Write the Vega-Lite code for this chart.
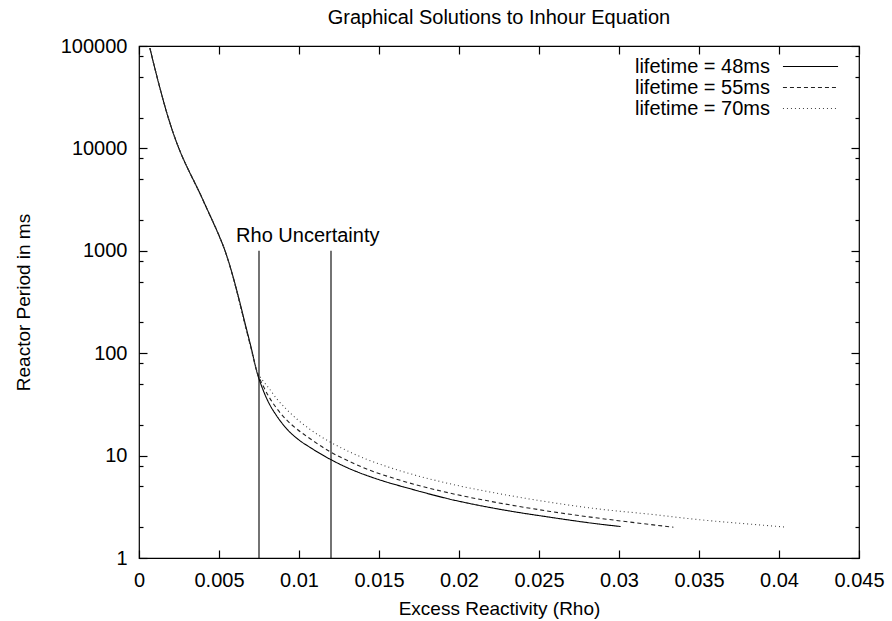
{
  "$schema": "https://vega.github.io/schema/vega-lite/v6.json",
  "autosize": {"type": "none"},
  "width": 720,
  "height": 512,
  "padding": {"left": 139, "top": 46, "right": 33, "bottom": 63},
  "background": "white",
  "title": {"text": "Graphical Solutions to Inhour Equation", "anchor": "middle", "offset": 8, "fontSize": 20, "font": "Liberation Sans", "fontWeight": "normal", "color": "black"},
  "config": {
    "view": {"stroke": "black", "strokeWidth": 1.2},
    "axis": {"domain": false, "grid": false, "labelFont": "Liberation Sans", "labelFontSize": 20, "labelColor": "black", "titleFont": "Liberation Sans", "titleFontSize": 19, "titleFontWeight": "normal", "titleColor": "black", "tickColor": "black", "tickWidth": 1.2, "labelOverlap": false, "labelFlush": false},
    "legend": {"labelFont": "Liberation Sans", "labelFontSize": 20, "labelColor": "black"}
  },
  "datasets": {
    "curves": [
      {"rho": 0.00068, "period": 95500, "lifetime": "lifetime = 48ms"},
      {"rho": 0.001, "period": 59600, "lifetime": "lifetime = 48ms"},
      {"rho": 0.0014, "period": 34300, "lifetime": "lifetime = 48ms"},
      {"rho": 0.0018, "period": 20650, "lifetime": "lifetime = 48ms"},
      {"rho": 0.0022, "period": 13270, "lifetime": "lifetime = 48ms"},
      {"rho": 0.0026, "period": 9100, "lifetime": "lifetime = 48ms"},
      {"rho": 0.003, "period": 6590, "lifetime": "lifetime = 48ms"},
      {"rho": 0.0034, "period": 4910, "lifetime": "lifetime = 48ms"},
      {"rho": 0.0038, "period": 3660, "lifetime": "lifetime = 48ms"},
      {"rho": 0.0042, "period": 2670, "lifetime": "lifetime = 48ms"},
      {"rho": 0.0046, "period": 1950, "lifetime": "lifetime = 48ms"},
      {"rho": 0.005, "period": 1410, "lifetime": "lifetime = 48ms"},
      {"rho": 0.0054, "period": 977, "lifetime": "lifetime = 48ms"},
      {"rho": 0.0058, "period": 617, "lifetime": "lifetime = 48ms"},
      {"rho": 0.0062, "period": 363, "lifetime": "lifetime = 48ms"},
      {"rho": 0.0066, "period": 204, "lifetime": "lifetime = 48ms"},
      {"rho": 0.007, "period": 115, "lifetime": "lifetime = 48ms"},
      {"rho": 0.0074, "period": 63, "lifetime": "lifetime = 48ms"},
      {"rho": 0.0077, "period": 46, "lifetime": "lifetime = 48ms"},
      {"rho": 0.0081, "period": 33, "lifetime": "lifetime = 48ms"},
      {"rho": 0.0086, "period": 24.5, "lifetime": "lifetime = 48ms"},
      {"rho": 0.0092, "period": 18.5, "lifetime": "lifetime = 48ms"},
      {"rho": 0.0099, "period": 14.6, "lifetime": "lifetime = 48ms"},
      {"rho": 0.0107, "period": 12, "lifetime": "lifetime = 48ms"},
      {"rho": 0.0119, "period": 9.3, "lifetime": "lifetime = 48ms"},
      {"rho": 0.0132, "period": 7.4, "lifetime": "lifetime = 48ms"},
      {"rho": 0.01423, "period": 6.4, "lifetime": "lifetime = 48ms"},
      {"rho": 0.0155, "period": 5.5, "lifetime": "lifetime = 48ms"},
      {"rho": 0.01673, "period": 4.85, "lifetime": "lifetime = 48ms"},
      {"rho": 0.01944, "period": 3.75, "lifetime": "lifetime = 48ms"},
      {"rho": 0.0225, "period": 3.0, "lifetime": "lifetime = 48ms"},
      {"rho": 0.0257, "period": 2.5, "lifetime": "lifetime = 48ms"},
      {"rho": 0.0288, "period": 2.14, "lifetime": "lifetime = 48ms"},
      {"rho": 0.0301, "period": 2.03, "lifetime": "lifetime = 48ms"},

      {"rho": 0.00068, "period": 95500, "lifetime": "lifetime = 55ms"},
      {"rho": 0.001, "period": 59600, "lifetime": "lifetime = 55ms"},
      {"rho": 0.0014, "period": 34300, "lifetime": "lifetime = 55ms"},
      {"rho": 0.0018, "period": 20650, "lifetime": "lifetime = 55ms"},
      {"rho": 0.0022, "period": 13270, "lifetime": "lifetime = 55ms"},
      {"rho": 0.0026, "period": 9100, "lifetime": "lifetime = 55ms"},
      {"rho": 0.003, "period": 6590, "lifetime": "lifetime = 55ms"},
      {"rho": 0.0034, "period": 4910, "lifetime": "lifetime = 55ms"},
      {"rho": 0.0038, "period": 3660, "lifetime": "lifetime = 55ms"},
      {"rho": 0.0042, "period": 2670, "lifetime": "lifetime = 55ms"},
      {"rho": 0.0046, "period": 1950, "lifetime": "lifetime = 55ms"},
      {"rho": 0.005, "period": 1410, "lifetime": "lifetime = 55ms"},
      {"rho": 0.0054, "period": 977, "lifetime": "lifetime = 55ms"},
      {"rho": 0.0058, "period": 612, "lifetime": "lifetime = 55ms"},
      {"rho": 0.0062, "period": 357, "lifetime": "lifetime = 55ms"},
      {"rho": 0.0066, "period": 198, "lifetime": "lifetime = 55ms"},
      {"rho": 0.007, "period": 112, "lifetime": "lifetime = 55ms"},
      {"rho": 0.0074, "period": 64, "lifetime": "lifetime = 55ms"},
      {"rho": 0.0077, "period": 50, "lifetime": "lifetime = 55ms"},
      {"rho": 0.0081, "period": 38, "lifetime": "lifetime = 55ms"},
      {"rho": 0.0086, "period": 29, "lifetime": "lifetime = 55ms"},
      {"rho": 0.0092, "period": 22.5, "lifetime": "lifetime = 55ms"},
      {"rho": 0.0099, "period": 18, "lifetime": "lifetime = 55ms"},
      {"rho": 0.0107, "period": 14.6, "lifetime": "lifetime = 55ms"},
      {"rho": 0.0119, "period": 11, "lifetime": "lifetime = 55ms"},
      {"rho": 0.0132, "period": 8.7, "lifetime": "lifetime = 55ms"},
      {"rho": 0.01423, "period": 7.4, "lifetime": "lifetime = 55ms"},
      {"rho": 0.0155, "period": 6.3, "lifetime": "lifetime = 55ms"},
      {"rho": 0.01673, "period": 5.5, "lifetime": "lifetime = 55ms"},
      {"rho": 0.01944, "period": 4.3, "lifetime": "lifetime = 55ms"},
      {"rho": 0.0225, "period": 3.45, "lifetime": "lifetime = 55ms"},
      {"rho": 0.0257, "period": 2.85, "lifetime": "lifetime = 55ms"},
      {"rho": 0.0288, "period": 2.44, "lifetime": "lifetime = 55ms"},
      {"rho": 0.0306, "period": 2.25, "lifetime": "lifetime = 55ms"},
      {"rho": 0.0334, "period": 2.0, "lifetime": "lifetime = 55ms"},

      {"rho": 0.00068, "period": 95500, "lifetime": "lifetime = 70ms"},
      {"rho": 0.001, "period": 59600, "lifetime": "lifetime = 70ms"},
      {"rho": 0.0014, "period": 34300, "lifetime": "lifetime = 70ms"},
      {"rho": 0.0018, "period": 20650, "lifetime": "lifetime = 70ms"},
      {"rho": 0.0022, "period": 13270, "lifetime": "lifetime = 70ms"},
      {"rho": 0.0026, "period": 9100, "lifetime": "lifetime = 70ms"},
      {"rho": 0.003, "period": 6590, "lifetime": "lifetime = 70ms"},
      {"rho": 0.0034, "period": 4910, "lifetime": "lifetime = 70ms"},
      {"rho": 0.0038, "period": 3660, "lifetime": "lifetime = 70ms"},
      {"rho": 0.0042, "period": 2670, "lifetime": "lifetime = 70ms"},
      {"rho": 0.0046, "period": 1950, "lifetime": "lifetime = 70ms"},
      {"rho": 0.005, "period": 1410, "lifetime": "lifetime = 70ms"},
      {"rho": 0.0054, "period": 975, "lifetime": "lifetime = 70ms"},
      {"rho": 0.0058, "period": 605, "lifetime": "lifetime = 70ms"},
      {"rho": 0.0062, "period": 350, "lifetime": "lifetime = 70ms"},
      {"rho": 0.0066, "period": 192, "lifetime": "lifetime = 70ms"},
      {"rho": 0.007, "period": 110, "lifetime": "lifetime = 70ms"},
      {"rho": 0.0074, "period": 65, "lifetime": "lifetime = 70ms"},
      {"rho": 0.0077, "period": 55, "lifetime": "lifetime = 70ms"},
      {"rho": 0.0081, "period": 46, "lifetime": "lifetime = 70ms"},
      {"rho": 0.0086, "period": 36, "lifetime": "lifetime = 70ms"},
      {"rho": 0.0092, "period": 28.5, "lifetime": "lifetime = 70ms"},
      {"rho": 0.0099, "period": 22.5, "lifetime": "lifetime = 70ms"},
      {"rho": 0.0107, "period": 18, "lifetime": "lifetime = 70ms"},
      {"rho": 0.0119, "period": 13.7, "lifetime": "lifetime = 70ms"},
      {"rho": 0.0132, "period": 10.8, "lifetime": "lifetime = 70ms"},
      {"rho": 0.01423, "period": 9.2, "lifetime": "lifetime = 70ms"},
      {"rho": 0.0155, "period": 7.8, "lifetime": "lifetime = 70ms"},
      {"rho": 0.01673, "period": 6.8, "lifetime": "lifetime = 70ms"},
      {"rho": 0.01944, "period": 5.3, "lifetime": "lifetime = 70ms"},
      {"rho": 0.0225, "period": 4.25, "lifetime": "lifetime = 70ms"},
      {"rho": 0.0257, "period": 3.5, "lifetime": "lifetime = 70ms"},
      {"rho": 0.0288, "period": 3.0, "lifetime": "lifetime = 70ms"},
      {"rho": 0.0319, "period": 2.68, "lifetime": "lifetime = 70ms"},
      {"rho": 0.0351, "period": 2.36, "lifetime": "lifetime = 70ms"},
      {"rho": 0.0382, "period": 2.14, "lifetime": "lifetime = 70ms"},
      {"rho": 0.0405, "period": 2.0, "lifetime": "lifetime = 70ms"}
    ],
    "bounds": [
      {"rho": 0.0075, "low": 1, "high": 1000},
      {"rho": 0.012, "low": 1, "high": 1000}
    ],
    "notes": [
      {"rho": 0.01055, "period": 1230, "note": "Rho Uncertainty"}
    ]
  },
  "resolve": {"axis": {"x": "independent", "y": "independent"}},
  "layer": [
    {
      "data": {"name": "curves"},
      "mark": {"type": "line", "strokeWidth": 1.1, "interpolate": "monotone"},
      "encoding": {
        "x": {"field": "rho", "type": "quantitative",
              "scale": {"domain": [0, 0.045], "nice": false, "zero": false},
              "axis": {"orient": "bottom", "title": "Excess Reactivity (Rho)", "values": [0, 0.005, 0.01, 0.015, 0.02, 0.025, 0.03, 0.035, 0.04, 0.045], "format": "~g", "tickSize": -8, "labelPadding": 20, "titleX": 360, "titleY": 50, "titleBaseline": "middle", "titleAnchor": "middle"}},
        "y": {"field": "period", "type": "quantitative",
              "scale": {"type": "log", "domain": [1, 100000], "nice": false},
              "axis": {"orient": "left", "title": "Reactor Period in ms",
                       "values": [1, 2, 5, 8, 10, 20, 50, 80, 100, 200, 500, 800, 1000, 2000, 5000, 8000, 10000, 20000, 50000, 80000, 100000],
                       "labelExpr": "indexof([1,10,100,1000,10000,100000], datum.value) >= 0 ? format(datum.value, 'd') : ''",
                       "tickSize": {"condition": {"test": "indexof([1,10,100,1000,10000,100000], datum.value) >= 0", "value": -8}, "value": -4},
                       "labelPadding": 20, "titleX": -116, "titleY": 256, "titleAngle": -90, "titleBaseline": "middle", "titleAnchor": "middle"}},
        "color": {"field": "lifetime", "type": "nominal",
                  "scale": {"domain": ["lifetime = 48ms", "lifetime = 55ms", "lifetime = 70ms"], "range": ["#000000", "#222222", "#444444"]},
                  "legend": {"title": null, "orient": "none", "legendX": 661, "legendY": 10, "symbolType": "M-2.9,0H2.9", "symbolSize": 361, "symbolStrokeWidth": 1.1, "labelAlign": "right", "labelOffset": -51, "rowPadding": 0, "padding": 0}},
        "strokeDash": {"field": "lifetime", "type": "nominal",
                       "scale": {"domain": ["lifetime = 48ms", "lifetime = 55ms", "lifetime = 70ms"], "range": [[1, 0], [4, 3], [1, 3]]},
                       "legend": {"title": null, "orient": "none", "legendX": 661, "legendY": 10, "symbolType": "M-2.9,0H2.9", "symbolSize": 361, "symbolStrokeWidth": 1.1, "labelAlign": "right", "labelOffset": -51, "rowPadding": 0, "padding": 0}}
      }
    },
    {
      "data": {"name": "bounds"},
      "mark": {"type": "rule", "color": "black", "strokeWidth": 1.1},
      "encoding": {
        "x": {"field": "rho", "type": "quantitative",
              "axis": {"orient": "top", "title": null, "values": [0, 0.005, 0.01, 0.015, 0.02, 0.025, 0.03, 0.035, 0.04, 0.045], "labels": false, "tickSize": -8}},
        "y": {"field": "low", "type": "quantitative",
              "axis": {"orient": "right", "title": null,
                       "values": [1, 2, 5, 8, 10, 20, 50, 80, 100, 200, 500, 800, 1000, 2000, 5000, 8000, 10000, 20000, 50000, 80000, 100000],
                       "labels": false,
                       "tickSize": {"condition": {"test": "indexof([1,10,100,1000,10000,100000], datum.value) >= 0", "value": -8}, "value": -4}}},
        "y2": {"field": "high"}
      }
    },
    {
      "data": {"name": "notes"},
      "mark": {"type": "text", "font": "Liberation Sans", "fontSize": 20, "color": "black", "align": "center", "baseline": "alphabetic"},
      "encoding": {
        "x": {"field": "rho", "type": "quantitative", "axis": null},
        "y": {"field": "period", "type": "quantitative", "axis": null},
        "text": {"field": "note"}
      }
    }
  ]
}
